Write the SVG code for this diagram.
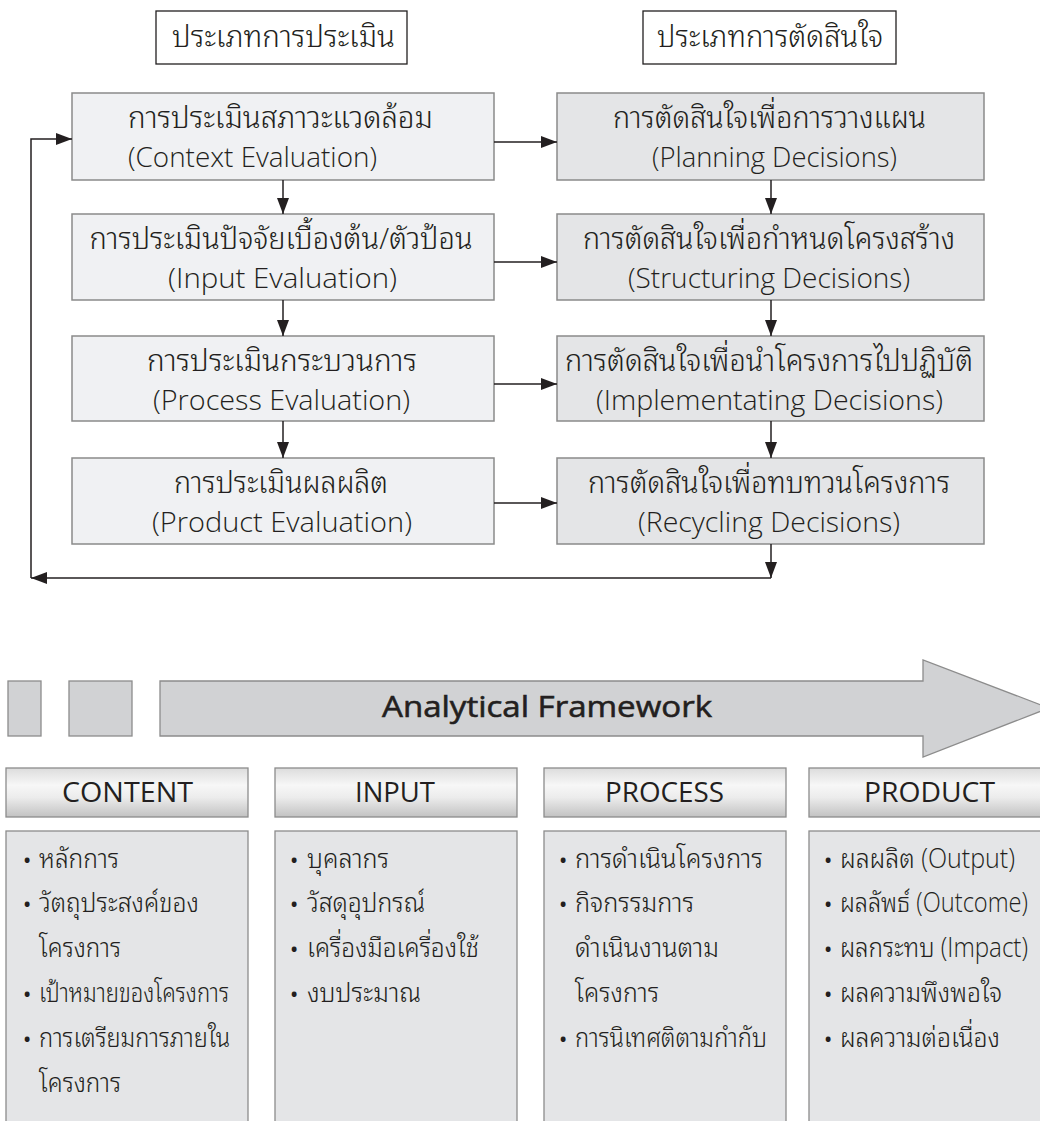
<svg xmlns="http://www.w3.org/2000/svg" width="1040" height="1121" viewBox="0 0 1040 1121">
<style>
text{font-family:"Open Sans","Noto Sans","Noto Sans Thai Looped","Noto Sans Thai",sans-serif;fill:#231f20;font-weight:300}
.hd{fill:#fff;stroke:#231f20;stroke-width:1.3}
.ev{fill:#f0f1f3;stroke:#8a8a8a;stroke-width:1.5}
.dc{fill:#e4e5e7;stroke:#8a8a8a;stroke-width:1.5}
.t{font-size:27px;text-anchor:middle}
.th{font-size:30px;text-anchor:middle}
.gr{fill:#d1d2d4;stroke:#8c8c8c;stroke-width:1.3}
.cat{fill:url(#g);stroke:#8c8c8c;stroke-width:1.3}
.ct{font-size:28px;text-anchor:middle;font-weight:400}
.bx{fill:#e4e5e7;stroke:#8c8c8c;stroke-width:1.3}
.b{font-size:27px}
.d{font-size:22px;font-weight:400;font-family:"Noto Sans",sans-serif}
.c{stroke:#231f20;stroke-width:1.5;fill:none}
</style>
<defs>
<marker id="ah2" viewBox="0 0 16 12" refX="16" refY="6" markerWidth="16" markerHeight="12" markerUnits="userSpaceOnUse" orient="auto">
<path d="M0,0 L16,6 L0,12 z" fill="#231f20"/>
</marker>
<linearGradient id="g" x1="0" y1="0" x2="0" y2="1">
<stop offset="0" stop-color="#dcdcdc"/>
<stop offset="0.35" stop-color="#f7f7f7"/>
<stop offset="0.6" stop-color="#ececec"/>
<stop offset="1" stop-color="#c2c2c2"/>
</linearGradient>
</defs>

<g id="head-eval"><rect class="hd" x="156" y="11" width="251" height="53"/><text class="th" x="283.5" y="47" textLength="223" lengthAdjust="spacingAndGlyphs">ประเภทการประเมิน</text></g>
<g id="head-dec"><rect class="hd" x="643" y="11" width="253" height="53"/><text class="th" x="770" y="47" textLength="226" lengthAdjust="spacingAndGlyphs">ประเภทการตัดสินใจ</text></g>

<g id="ev1"><rect class="ev" x="72" y="93" width="422" height="87"/><text class="th" x="280.5" y="128" textLength="305" lengthAdjust="spacingAndGlyphs">การประเมินสภาวะแวดล้อม</text><text class="t" x="252.5" y="167" textLength="249" lengthAdjust="spacingAndGlyphs">(Context Evaluation)</text></g>
<g id="ev2"><rect class="ev" x="72" y="214" width="422" height="86"/><text class="th" x="281" y="249" textLength="383" lengthAdjust="spacingAndGlyphs">การประเมินปัจจัยเบื้องต้น/ตัวป้อน</text><text class="t" x="282.5" y="288" textLength="229" lengthAdjust="spacingAndGlyphs">(Input Evaluation)</text></g>
<g id="ev3"><rect class="ev" x="72" y="336" width="422" height="85"/><text class="th" x="282" y="371" textLength="270" lengthAdjust="spacingAndGlyphs">การประเมินกระบวนการ</text><text class="t" x="281.5" y="410" textLength="257" lengthAdjust="spacingAndGlyphs">(Process Evaluation)</text></g>
<g id="ev4"><rect class="ev" x="72" y="458" width="422" height="86"/><text class="th" x="281" y="493" textLength="214" lengthAdjust="spacingAndGlyphs">การประเมินผลผลิต</text><text class="t" x="282" y="532" textLength="260" lengthAdjust="spacingAndGlyphs">(Product Evaluation)</text></g>

<g id="dc1"><rect class="dc" x="557" y="93" width="427" height="87"/><text class="th" x="769.5" y="128" textLength="313" lengthAdjust="spacingAndGlyphs">การตัดสินใจเพื่อการวางแผน</text><text class="t" x="774.5" y="167" textLength="245" lengthAdjust="spacingAndGlyphs">(Planning Decisions)</text></g>
<g id="dc2"><rect class="dc" x="557" y="214" width="427" height="86"/><text class="th" x="769" y="249" textLength="372" lengthAdjust="spacingAndGlyphs">การตัดสินใจเพื่อกำหนดโครงสร้าง</text><text class="t" x="769" y="288" textLength="282" lengthAdjust="spacingAndGlyphs">(Structuring Decisions)</text></g>
<g id="dc3"><rect class="dc" x="557" y="336" width="427" height="85"/><text class="th" x="769" y="371" textLength="408" lengthAdjust="spacingAndGlyphs">การตัดสินใจเพื่อนำโครงการไปปฏิบัติ</text><text class="t" x="769.5" y="410" textLength="347" lengthAdjust="spacingAndGlyphs">(Implementating Decisions)</text></g>
<g id="dc4"><rect class="dc" x="557" y="458" width="427" height="86"/><text class="th" x="769" y="493" textLength="362" lengthAdjust="spacingAndGlyphs">การตัดสินใจเพื่อทบทวนโครงการ</text><text class="t" x="769" y="532" textLength="262" lengthAdjust="spacingAndGlyphs">(Recycling Decisions)</text></g>

<g id="connectors">
<path class="c" d="M283,180 V214" marker-end="url(#ah2)"/>
<path class="c" d="M283,300 V336" marker-end="url(#ah2)"/>
<path class="c" d="M283,421 V458" marker-end="url(#ah2)"/>
<path class="c" d="M771,180 V214" marker-end="url(#ah2)"/>
<path class="c" d="M771,300 V336" marker-end="url(#ah2)"/>
<path class="c" d="M771,421 V458" marker-end="url(#ah2)"/>
<path class="c" d="M494,142 H557" marker-end="url(#ah2)"/>
<path class="c" d="M494,262 H557" marker-end="url(#ah2)"/>
<path class="c" d="M494,384 H557" marker-end="url(#ah2)"/>
<path class="c" d="M494,503 H557" marker-end="url(#ah2)"/>
<path class="c" d="M771,544 V578" marker-end="url(#ah2)"/>
<path class="c" d="M771,578 H31" stroke="#555" stroke-width="2" marker-end="url(#ah2)"/>
<path class="c" d="M31,578 V139 H72" marker-end="url(#ah2)"/>
</g>

<g id="framework">
<rect class="gr" x="8" y="681" width="33" height="55"/>
<rect class="gr" x="69" y="681" width="63" height="55"/>
<path class="gr" d="M160,681 H923 V660 L1049,708 L923,757 V736 H160 Z"/>
<text x="547" y="717" font-size="30" style="font-weight:400" stroke="#231f20" stroke-width="0.6" text-anchor="middle" textLength="330" lengthAdjust="spacingAndGlyphs">Analytical Framework</text>
</g>

<g id="cat-content"><rect class="cat" x="6" y="768" width="242" height="49"/><text class="ct" x="127.5" y="802" textLength="131" lengthAdjust="spacingAndGlyphs">CONTENT</text></g>
<g id="cat-input"><rect class="cat" x="275" y="768" width="242" height="49"/><text class="ct" x="395" y="802" textLength="80" lengthAdjust="spacingAndGlyphs">INPUT</text></g>
<g id="cat-process"><rect class="cat" x="544" y="768" width="242" height="49"/><text class="ct" x="664.5" y="802" textLength="119" lengthAdjust="spacingAndGlyphs">PROCESS</text></g>
<g id="cat-product"><rect class="cat" x="809" y="768" width="242" height="49"/><text class="ct" x="929.5" y="802" textLength="131" lengthAdjust="spacingAndGlyphs">PRODUCT</text></g>

<g id="list-content"><rect class="bx" x="6" y="831" width="242" height="300"/>
<text class="d" x="23" y="868">•</text><text class="b" x="39" y="868" textLength="80" lengthAdjust="spacingAndGlyphs">หลักการ</text>
<text class="d" x="23" y="912">•</text><text class="b" x="39" y="912" textLength="160" lengthAdjust="spacingAndGlyphs">วัตถุประสงค์ของ</text>
<text class="b" x="39" y="957" textLength="82" lengthAdjust="spacingAndGlyphs">โครงการ</text>
<text class="d" x="23" y="1002">•</text><text class="b" x="39" y="1002" textLength="190" lengthAdjust="spacingAndGlyphs">เป้าหมายของโครงการ</text>
<text class="d" x="23" y="1047">•</text><text class="b" x="39" y="1047" textLength="191" lengthAdjust="spacingAndGlyphs">การเตรียมการภายใน</text>
<text class="b" x="39" y="1092" textLength="82" lengthAdjust="spacingAndGlyphs">โครงการ</text>
</g>
<g id="list-input"><rect class="bx" x="275" y="831" width="242" height="300"/>
<text class="d" x="290" y="868">•</text><text class="b" x="307" y="868" textLength="82" lengthAdjust="spacingAndGlyphs">บุคลากร</text>
<text class="d" x="290" y="912">•</text><text class="b" x="307" y="912" textLength="118" lengthAdjust="spacingAndGlyphs">วัสดุอุปกรณ์</text>
<text class="d" x="290" y="957">•</text><text class="b" x="307" y="957" textLength="172" lengthAdjust="spacingAndGlyphs">เครื่องมือเครื่องใช้</text>
<text class="d" x="290" y="1002">•</text><text class="b" x="307" y="1002" textLength="114" lengthAdjust="spacingAndGlyphs">งบประมาณ</text>
</g>
<g id="list-process"><rect class="bx" x="544" y="831" width="242" height="300"/>
<text class="d" x="559" y="868">•</text><text class="b" x="575" y="868" textLength="188" lengthAdjust="spacingAndGlyphs">การดำเนินโครงการ</text>
<text class="d" x="559" y="912">•</text><text class="b" x="575" y="912" textLength="119" lengthAdjust="spacingAndGlyphs">กิจกรรมการ</text>
<text class="b" x="575" y="957" textLength="144" lengthAdjust="spacingAndGlyphs">ดำเนินงานตาม</text>
<text class="b" x="575" y="1002" textLength="84" lengthAdjust="spacingAndGlyphs">โครงการ</text>
<text class="d" x="559" y="1047">•</text><text class="b" x="575" y="1047" textLength="192" lengthAdjust="spacingAndGlyphs">การนิเทศติตามกำกับ</text>
</g>
<g id="list-product"><rect class="bx" x="809" y="831" width="242" height="300"/>
<text class="d" x="824" y="868">•</text><text class="b" x="840" y="868" textLength="175" lengthAdjust="spacingAndGlyphs">ผลผลิต (Output)</text>
<text class="d" x="824" y="912">•</text><text class="b" x="840" y="912" textLength="188" lengthAdjust="spacingAndGlyphs">ผลลัพธ์ (Outcome)</text>
<text class="d" x="824" y="957">•</text><text class="b" x="840" y="957" textLength="188" lengthAdjust="spacingAndGlyphs">ผลกระทบ (Impact)</text>
<text class="d" x="824" y="1002">•</text><text class="b" x="840" y="1002" textLength="162" lengthAdjust="spacingAndGlyphs">ผลความพึงพอใจ</text>
<text class="d" x="824" y="1047">•</text><text class="b" x="840" y="1047" textLength="160" lengthAdjust="spacingAndGlyphs">ผลความต่อเนื่อง</text>
</g>
</svg>
